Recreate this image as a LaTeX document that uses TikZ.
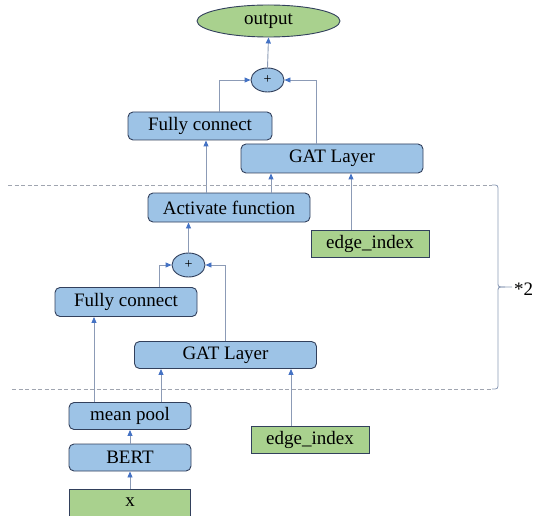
\documentclass[tikz,border=0pt]{standalone}
\usepackage{fontspec}
\setmainfont{Liberation Serif}
\usetikzlibrary{arrows.meta,shapes.geometric}

\definecolor{boxblue}{RGB}{157,195,230}
\definecolor{boxgreen}{RGB}{169,209,142}
\definecolor{boxline}{RGB}{50,64,92}
\definecolor{linegray}{RGB}{140,155,182}
\definecolor{tipblue}{RGB}{68,114,196}
\definecolor{dashgray}{RGB}{160,165,176}

\tikzset{
  block/.style={draw=boxline, fill=boxblue, rounded corners=5pt, line width=0.9pt,
    inner sep=0pt, font=\fontsize{19}{22}\selectfont},
  datain/.style={draw=boxline, fill=boxgreen, line width=0.9pt,
    inner sep=0pt, font=\fontsize{19}{22}\selectfont},
  adder/.style={ellipse, draw=boxline, fill=boxblue, line width=0.9pt,
    inner sep=0pt, minimum width=33pt, minimum height=24pt, font=\fontsize{14}{16}\selectfont},
  arr/.style={draw=linegray, line width=0.9pt, -{Triangle[length=6pt,width=5pt,color=tipblue]}},
}

\begin{document}
\begin{tikzpicture}[x=1pt, y=-1pt]
      \useasboundingbox (0,0) rectangle (541,516);
      % output part
      \node (out) [ellipse, draw=boxline, fill=boxgreen, line width=0.9pt, inner sep=0pt,
        minimum width=143pt, minimum height=32pt, font=\fontsize{19}{22}\selectfont]
        at (268.5,21) {output};
      \node (addtop) [adder] at (267.5,80) {+};
      \node (fctop) [block, minimum width=144pt, minimum height=28pt] at (200,126) {Fully connect};
      \node (gattop) [block, minimum width=182pt, minimum height=29pt] at (332,158.5) {GAT Layer};
      % repeated block
      \node (act) [block, minimum width=162pt, minimum height=29pt] at (229,207.5) {Activate function};
      \node (edgetop) [datain, minimum width=118pt, minimum height=27pt] at (370,243.5) {edge\_index};
      \node (addbot) [adder] at (188.5,265) {+};
      \node (fcbot) [block, minimum width=142pt, minimum height=29pt] at (126,302) {Fully connect};
      \node (gatbot) [block, minimum width=182pt, minimum height=27pt] at (225.5,355) {GAT Layer};
      % input part
      \node (pool) [block, minimum width=122pt, minimum height=27pt] at (130,416) {mean pool};
      \node (bert) [block, minimum width=122pt, minimum height=27pt] at (130,457.5) {BERT};
      \node (xin) [datain, minimum width=121pt, minimum height=27pt] at (130,502.5) {x};
      \node (edgebot) [datain, minimum width=118pt, minimum height=27pt] at (310,439.5) {edge\_index};

      % connectors
      \draw[arr] (xin.north) -- (bert.south);
      \draw[arr] (bert.north) -- (pool.south);
      \draw[arr] ([xshift=-36pt]pool.north) -- ([xshift=-36pt]pool.north |- fcbot.south);
      \draw[arr] ([xshift=31pt]pool.north) -- ([xshift=31pt]pool.north |- gatbot.south);
      \draw[arr] ([xshift=-19pt]edgebot.north) -- ([xshift=-19pt]edgebot.north |- gatbot.south);
      \draw[arr] ([xshift=33pt]fcbot.north) |- (addbot.west);
      \draw[arr] (gatbot.north) |- (addbot.east);
      \draw[arr] (addbot.north) -- (addbot.north |- act.south);
      \draw[arr] ([xshift=-23pt]act.north) -- ([xshift=-23pt]act.north |- fctop.south);
      \draw[arr] ([xshift=42pt]act.north) -- ([xshift=42pt]act.north |- gattop.south);
      \draw[arr] ([xshift=-19pt]edgetop.north) -- ([xshift=-19pt]edgetop.north |- gattop.south);
      \draw[arr] ([xshift=19pt]fctop.north) |- (addtop.west);
      \draw[arr] ([xshift=-16pt]gattop.north) |- (addtop.east);
      \draw[arr] (addtop.north) -- (out.south);

      % repeat bracket
      \draw[dashgray, line width=0.8pt, dash pattern=on 4pt off 2.5pt] (8,185) -- (492,185);
      \draw[dashgray, line width=0.8pt, dash pattern=on 4pt off 2.5pt] (12,389) -- (492,389);
      \draw[linegray, line width=0.8pt] (492,185) .. controls (498,185) .. (498,191) -- (498,282)
        .. controls (498,287) .. (505,287) -- (512,287);
      \draw[linegray, line width=0.8pt] (492,389) .. controls (498,389) .. (498,383) -- (498,292)
        .. controls (498,287) .. (505,287);
      \node (rep) [font=\fontsize{19}{22}\selectfont, anchor=west, inner sep=0pt] at (514,289) {*2};
\end{tikzpicture}
\end{document}
